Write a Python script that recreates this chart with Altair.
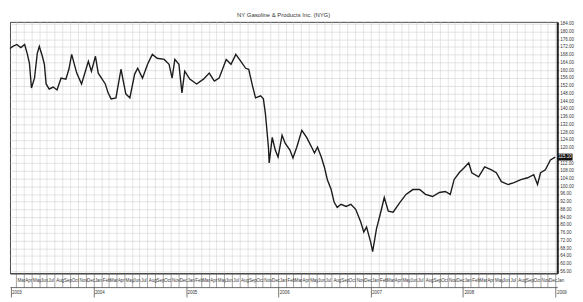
import altair as alt
import pandas as pd

dates = [
    "2003-02-05", "2003-02-16", "2003-03-04", "2003-03-20", "2003-04-04", "2003-04-15",
    "2003-04-23", "2003-05-01", "2003-05-13", "2003-05-24", "2003-06-01", "2003-06-13",
    "2003-06-21", "2003-06-28", "2003-07-10", "2003-07-26", "2003-08-10", "2003-08-26",
    "2003-09-14", "2003-09-26", "2003-10-07", "2003-10-27", "2003-11-15", "2003-12-12",
    "2003-12-24", "2004-01-09", "2004-01-20", "2004-02-17", "2004-02-28", "2004-03-11",
    "2004-03-30", "2004-04-19", "2004-05-08", "2004-05-24", "2004-06-12", "2004-06-24",
    "2004-07-13", "2004-08-02", "2004-08-21", "2004-09-09", "2004-10-07", "2004-10-26",
    "2004-11-07", "2004-11-18", "2004-12-04", "2004-12-16", "2004-12-27", "2005-01-16",
    "2005-02-12", "2005-03-11", "2005-04-03", "2005-04-23", "2005-05-12", "2005-06-09",
    "2005-06-28", "2005-07-17", "2005-08-06", "2005-08-25", "2005-09-06", "2005-09-21",
    "2005-10-03", "2005-10-23", "2005-11-03", "2005-11-11", "2005-11-23", "2005-11-26",
    "2005-12-08", "2005-12-20", "2005-12-31", "2006-01-16", "2006-01-28", "2006-02-16",
    "2006-02-28", "2006-03-15", "2006-04-04", "2006-04-23", "2006-05-13", "2006-05-24",
    "2006-06-05", "2006-06-20", "2006-07-02", "2006-07-14", "2006-07-29", "2006-08-10",
    "2006-08-22", "2006-09-06", "2006-09-26", "2006-10-15", "2006-11-03", "2006-11-23",
    "2006-12-05", "2006-12-16", "2007-01-01", "2007-01-09", "2007-01-24", "2007-02-13",
    "2007-02-24", "2007-03-12", "2007-03-31", "2007-04-27", "2007-05-21", "2007-06-17",
    "2007-07-14", "2007-08-06", "2007-09-03", "2007-09-30", "2007-10-23", "2007-11-12",
    "2007-11-27", "2007-12-17", "2008-01-05", "2008-01-24", "2008-02-05", "2008-03-03",
    "2008-03-27", "2008-04-23", "2008-05-12", "2008-06-01", "2008-06-28", "2008-07-21",
    "2008-08-17", "2008-09-13", "2008-10-07", "2008-10-22", "2008-11-03", "2008-11-22",
    "2008-12-12", "2008-12-31",
]

prices = [
    171.2, 172.3, 173.3, 171.7, 173.3, 168.2,
    163.6, 150.8, 155.9, 168.7, 172.3, 167.2,
    163.1, 152.9, 150.3, 151.3, 149.8, 155.9,
    155.4, 160.5, 168.2, 158.5, 152.9, 164.6,
    159.5, 167.2, 158.5, 152.9, 148.3, 145.2,
    145.7, 160.5, 147.8, 145.7, 158.0, 161.0,
    155.9, 163.1, 168.2, 166.2, 165.6, 163.1,
    155.9, 165.6, 163.1, 148.3, 159.5, 155.4,
    152.9, 155.4, 158.5, 154.4, 155.9, 165.6,
    163.1, 168.2, 164.6, 161.0, 160.5, 151.9,
    145.7, 146.8, 145.2, 137.6, 120.2, 112.1,
    125.3, 118.7, 115.1, 126.4, 122.3, 118.7,
    114.6, 120.2, 128.9, 125.3, 120.2, 117.2,
    120.2, 115.1, 110.0, 103.4, 98.3, 91.7,
    89.1, 90.7, 89.6, 90.7, 88.1, 81.5,
    76.4, 78.9, 71.3, 66.2, 77.9, 88.1,
    94.2, 87.1, 86.6, 91.7, 95.8, 98.3,
    98.3, 95.8, 94.7, 96.8, 97.3, 95.8,
    103.4, 107.0, 109.5, 112.1, 107.0, 104.9,
    110.0, 108.5, 107.0, 102.4, 100.9, 101.9,
    103.4, 104.4, 106.0, 100.9, 107.0, 108.5,
    113.6, 115.1,
]

y_ticks = list(range(56, 185, 4))
year_ticks = ["2003-02-07", "2004-01-01", "2005-01-01", "2006-01-01",
              "2007-01-01", "2008-01-01", "2009-01-01"]
x_domain = ["2003-02-05", "2009-01-08"]
title_text = "NY Gasoline & Products Inc. (NYG)"

df = pd.DataFrame({"date": dates, "price": prices})
last = pd.DataFrame({"date": [x_domain[1]], "price": [prices[-1]]})

FONT = "Liberation Sans"
x_scale = alt.Scale(domain=x_domain)
y_scale = alt.Scale(domain=[55, 185], nice=False, zero=False)

y_axis = alt.Axis(
    orient="right", values=y_ticks, format=".2f",
    labelExpr="abs(datum.value - %s) < 3 ? '' : datum.label" % prices[-1],
    labelFontSize=4.6, labelFont=FONT, labelColor="#333",
    labelPadding=1, tickSize=1.5, tickColor="#555",
    labelOverlap=False, labelFlush=False,
    grid=True, gridColor="#cfcfcf", gridWidth=0.6,
    domainColor="#222", domainWidth=2,
)

line = alt.Chart(df).mark_line(color="#1c1c1c", strokeWidth=1.4).encode(
    x=alt.X(
        "date:T", scale=x_scale, title=None,
        axis=alt.Axis(
            orient="bottom", tickCount={"interval": "month", "step": 1},
            format="%b", labelAlign="left", labelOffset=1, labelPadding=-10,
            tickSize=14, tickColor="#666", tickWidth=0.6,
            labelFontSize=4.5, labelFont=FONT, labelColor="#333",
            labelOverlap=False, labelFlush=False,
            grid=True, gridColor="#d4d4d4", gridWidth=0.6,
            domainColor="#333", domainWidth=1,
        ),
    ),
    y=alt.Y("price:Q", scale=y_scale, title=None, axis=y_axis),
)

years = alt.Chart(df).mark_line(opacity=0).encode(
    x=alt.X(
        "date:T", scale=x_scale, title=None,
        axis=alt.Axis(
            orient="bottom", values=year_ticks, format="%Y", offset=14,
            tickSize=10, tickColor="#555", tickWidth=0.8,
            labelAlign="left", labelOffset=1, labelPadding=-8,
            labelFontSize=4.5, labelFont=FONT, labelColor="#333",
            labelOverlap=False, labelFlush=False, grid=False,
            domainColor="#444", domainWidth=0.8,
        ),
    ),
    y=alt.Y("price:Q", scale=y_scale, title=None, axis=y_axis),
)

box = alt.Chart(last).mark_rect(width=15, height=7, xOffset=8, color="#111").encode(
    x=alt.X("date:T", scale=x_scale, axis=None),
    y=alt.Y("price:Q", scale=y_scale, title=None, axis=y_axis),
)
box_text = alt.Chart(last).mark_text(
    xOffset=8, fontSize=4.6, font=FONT, color="white"
).encode(
    x=alt.X("date:T", scale=x_scale, axis=None),
    y=alt.Y("price:Q", scale=y_scale, title=None, axis=y_axis),
    text=alt.Text("price:Q", format=".2f"),
)

chart = alt.layer(line, years, box, box_text).resolve_axis(x="independent").properties(
    width=555, height=255,
    title=alt.TitleParams(title_text, fontSize=6, font=FONT, color="#333",
                          offset=3, anchor="middle", fontWeight="normal"),
    padding={"left": 2, "top": 12, "right": 18, "bottom": 25},
    autosize=alt.AutoSizeParams(type="none"),
).configure_view(stroke="#444", strokeWidth=1)

chart.save("out.html", embed_options={"renderer": "svg", "actions": False})
